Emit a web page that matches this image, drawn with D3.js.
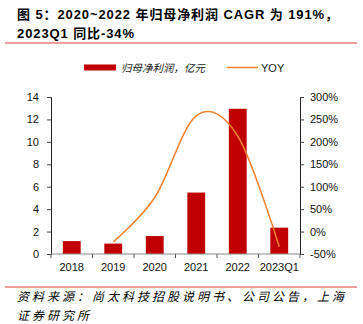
<!DOCTYPE html>
<html>
<head>
<meta charset="utf-8">
<script src="https://cdn.jsdelivr.net/npm/d3@7"></script>
<style>
  body { margin: 0; background: #fff; }
  text { font-family: "Liberation Sans", Arial, "Noto Sans CJK SC", sans-serif; }
</style>
</head>
<body>
<script>
// data
const categories = ['2018', '2019', '2020', '2021', '2022', '2023Q1']
const profit = [1.15, 0.93, 1.6, 5.48, 12.95, 2.35]      // 归母净利润，亿元
const yoy = [null, -23, 76, 258, 213, -34]                 // YOY, %
const leftTicks = [0, 2, 4, 6, 8, 10, 12, 14]
const rightTicks = [-50, 0, 50, 100, 150, 200, 250, 300]

const titleLines = ['图 5：2020~2022 年归母净利润 CAGR 为 191%，', '2023Q1 同比-34%']
const sourceLines = ['资料来源：尚太科技招股说明书、公司公告，上海', '证券研究所']

const W = 363, H = 324
const plot = {left: 51, right: 300, top: 97, bottom: 254}

const svg = d3.select('body').append('svg')
  .attr('width', W)
  .attr('height', H)

// title
svg.append('g').selectAll('text')
  .data(titleLines)
  .enter().append('text')
  .attr('x', 17)
  .attr('y', (d, i) => 19 + i * 18.5)
  .style('font-size', '13px')
  .style('font-weight', 'bold')
  .style('letter-spacing', '0.9px')
  .style('fill', '#000')
  .text(d => d)

svg.append('line')
  .attr('x1', 5).attr('x2', 357)
  .attr('y1', 43).attr('y2', 43)
  .style('stroke', '#e03c3c').style('stroke-width', 1)

svg.append('line')
  .attr('x1', 5).attr('x2', 357)
  .attr('y1', 287).attr('y2', 287)
  .style('stroke', '#e03c3c').style('stroke-width', 1)

// scales
const x = d3.scaleBand()
  .domain(categories)
  .range([plot.left, plot.right])
  .paddingInner(0)
const step = x.bandwidth()
const barW = step * 0.43

const yL = d3.scaleLinear().domain([0, 14]).range([plot.bottom, plot.top])
const yR = d3.scaleLinear().domain([-50, 300]).range([plot.bottom, plot.top])

// left axis
const leftAxis = svg.append('g')
  .attr('transform', `translate(${plot.left},0)`)
  .call(d3.axisLeft(yL).tickValues(leftTicks).tickSize(4).tickPadding(8).tickFormat(d3.format('d')))
leftAxis.select('.domain').style('stroke', '#222')
leftAxis.selectAll('.tick line').style('stroke', '#444')
leftAxis.selectAll('.tick text')
  .style('font-size', '11px').style('fill', '#111')
  .style('font-family', '"Liberation Sans", Arial, sans-serif')

// right axis
const rightAxis = svg.append('g')
  .attr('transform', `translate(${plot.right},0)`)
  .call(d3.axisRight(yR).tickValues(rightTicks).tickSize(4).tickPadding(6).tickFormat(d => d + '%'))
rightAxis.select('.domain').style('stroke', '#222')
rightAxis.selectAll('.tick line').style('stroke', '#444')
rightAxis.selectAll('.tick text')
  .style('font-size', '11px').style('fill', '#111')
  .style('font-family', '"Liberation Sans", Arial, sans-serif')

// bars
svg.append('g').selectAll('rect.bar')
  .data(categories)
  .enter().append('rect')
  .classed('bar', true)
  .attr('x', d => x(d) + (step - barW) / 2)
  .attr('width', barW)
  .attr('y', (d, i) => yL(profit[i]))
  .attr('height', (d, i) => yL(0) - yL(profit[i]))
  .style('fill', '#c00000')

// x axis (category boundaries as ticks)
const xAxisG = svg.append('g')
xAxisG.append('line')
  .attr('x1', plot.left).attr('x2', plot.right)
  .attr('y1', yL(0)).attr('y2', yL(0))
  .style('stroke', '#8a8a8a').style('stroke-width', 1.2)
xAxisG.selectAll('line.tk')
  .data(categories.concat(['end']))
  .enter().append('line')
  .classed('tk', true)
  .attr('x1', (d, i) => plot.left + i * step)
  .attr('x2', (d, i) => plot.left + i * step)
  .attr('y1', yL(0)).attr('y2', yL(0) + 4)
  .style('stroke', '#555')
xAxisG.selectAll('text')
  .data(categories)
  .enter().append('text')
  .attr('x', d => x(d) + step / 2)
  .attr('y', 271)
  .attr('text-anchor', 'middle')
  .style('font-size', '11px')
  .style('fill', '#111')
  .text(d => d)

// YOY line
const pts = categories.map((c, i) => ({c, v: yoy[i]})).filter(d => d.v !== null)
const line = d3.line()
  .x(d => x(d.c) + step / 2)
  .y(d => yR(d.v))
  .curve(d3.curveCardinal.tension(0))
svg.append('path')
  .datum(pts)
  .attr('d', line)
  .style('fill', 'none')
  .style('stroke', '#f08232')
  .style('stroke-width', 1.5)

// legend
const leg = svg.append('g')
leg.append('rect')
  .attr('x', 84).attr('y', 64.5).attr('width', 32).attr('height', 6)
  .style('fill', '#c00000')
leg.append('text')
  .attr('x', 121).attr('y', 71.5)
  .style('font-size', '10.5px')
  .style('fill', '#222')
  .style('font-family', '"Noto Sans CJK SC", sans-serif')
  .style('font-style', 'italic')
  .text('归母净利润，亿元')
leg.append('line')
  .attr('x1', 227).attr('x2', 258)
  .attr('y1', 67.5).attr('y2', 67.5)
  .style('stroke', '#f08232').style('stroke-width', 1.5)
leg.append('text')
  .attr('x', 261).attr('y', 71.5)
  .style('font-size', '11px')
  .style('fill', '#222')
  .text('YOY')

// source
svg.append('g').selectAll('text')
  .data(sourceLines)
  .enter().append('text')
  .attr('x', 17)
  .attr('y', (d, i) => 301 + i * 19)
  .style('font-size', '12px')
  .style('font-style', 'italic')
  .style('font-family', '"Noto Sans CJK SC", sans-serif')
  .style('letter-spacing', '3px')
  .style('fill', '#000')
  .text(d => d)
</script>
</body>
</html>
